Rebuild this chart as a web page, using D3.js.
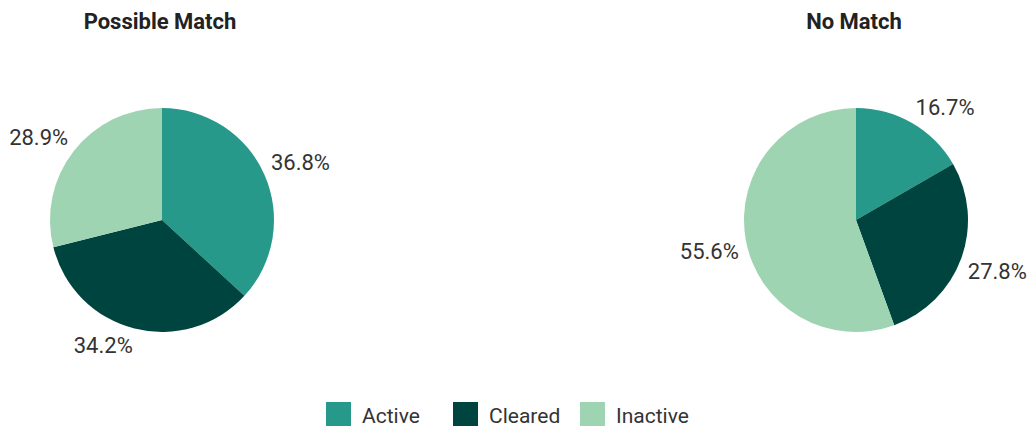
<!DOCTYPE html>
<html>
<head>
<meta charset="utf-8">
<script src="https://cdn.jsdelivr.net/npm/d3@7"></script>
<style>
  html, body { margin: 0; padding: 0; background: #fff; }
  svg { display: block; }
  text { font-family: Roboto, "Noto Sans", sans-serif; fill: #333; }
</style>
</head>
<body>
<svg id="chart" width="1028" height="429"></svg>
<script>
const categories = ["Active", "Cleared", "Inactive"];
const panels = ["Possible Match", "No Match"];
const possibleMatch = [36.8, 34.2, 28.9];
const noMatch = [16.7, 27.8, 55.6];
const colors = ["#27998a", "#00443f", "#9fd4b2"];

const W = 1028, H = 429;
const svg = d3.select("#chart");
const color = d3.scaleOrdinal().domain(categories).range(colors);

const panelX = d3.scalePoint().domain(panels).range([162, 856]);
const seriesByPanel = { "Possible Match": possibleMatch, "No Match": noMatch };
const radius = 112;
const cy = 220;
const pad = 7;

const pie = d3.pie().sort(null).value(d => d.v);
const arc = d3.arc().innerRadius(0).outerRadius(radius);

panels.forEach(p => {
  const cx = panelX(p);
  const data = categories.map((c, i) => ({ c, v: seriesByPanel[p][i] }));
  const g = svg.append("g").attr("transform", `translate(${cx},${cy})`);

  svg.append("text")
    .attr("x", cx - 2).attr("y", 29)
    .attr("text-anchor", "middle")
    .style("font-size", "22px").style("font-weight", "bold")
    .style("fill", "#222")
    .text(p);

  const arcs = pie(data);
  g.selectAll("path").data(arcs).enter().append("path")
    .attr("d", arc)
    .attr("fill", d => color(d.data.c));

  arcs.forEach(a => {
    const mid = (a.startAngle + a.endAngle) / 2;
    const sx = Math.sin(mid), cyv = -Math.cos(mid);
    const px = (radius + pad) * sx, py = (radius + pad) * cyv;
    const t = g.append("text")
      .style("font-size", "22px")
      .text(d3.format(".1f")(a.data.v) + "%");
    const w = t.node().getComputedTextLength();
    const capH = 16;
    const x = sx >= 0 ? px : px - w;
    const y = cyv < 0 ? py - 2 : py + 2 + capH;
    t.attr("x", x).attr("y", y);
  });
});

// legend
const legendX = d3.scaleOrdinal().domain(categories).range([326, 453, 580]);
const lg = svg.append("g");
categories.forEach(c => {
  const x = legendX(c);
  lg.append("rect").attr("x", x).attr("y", 402).attr("width", 25).attr("height", 24)
    .attr("fill", color(c));
  lg.append("text").attr("x", x + 36).attr("y", 423)
    .style("font-size", "21px").text(c);
});
</script>
</body>
</html>
